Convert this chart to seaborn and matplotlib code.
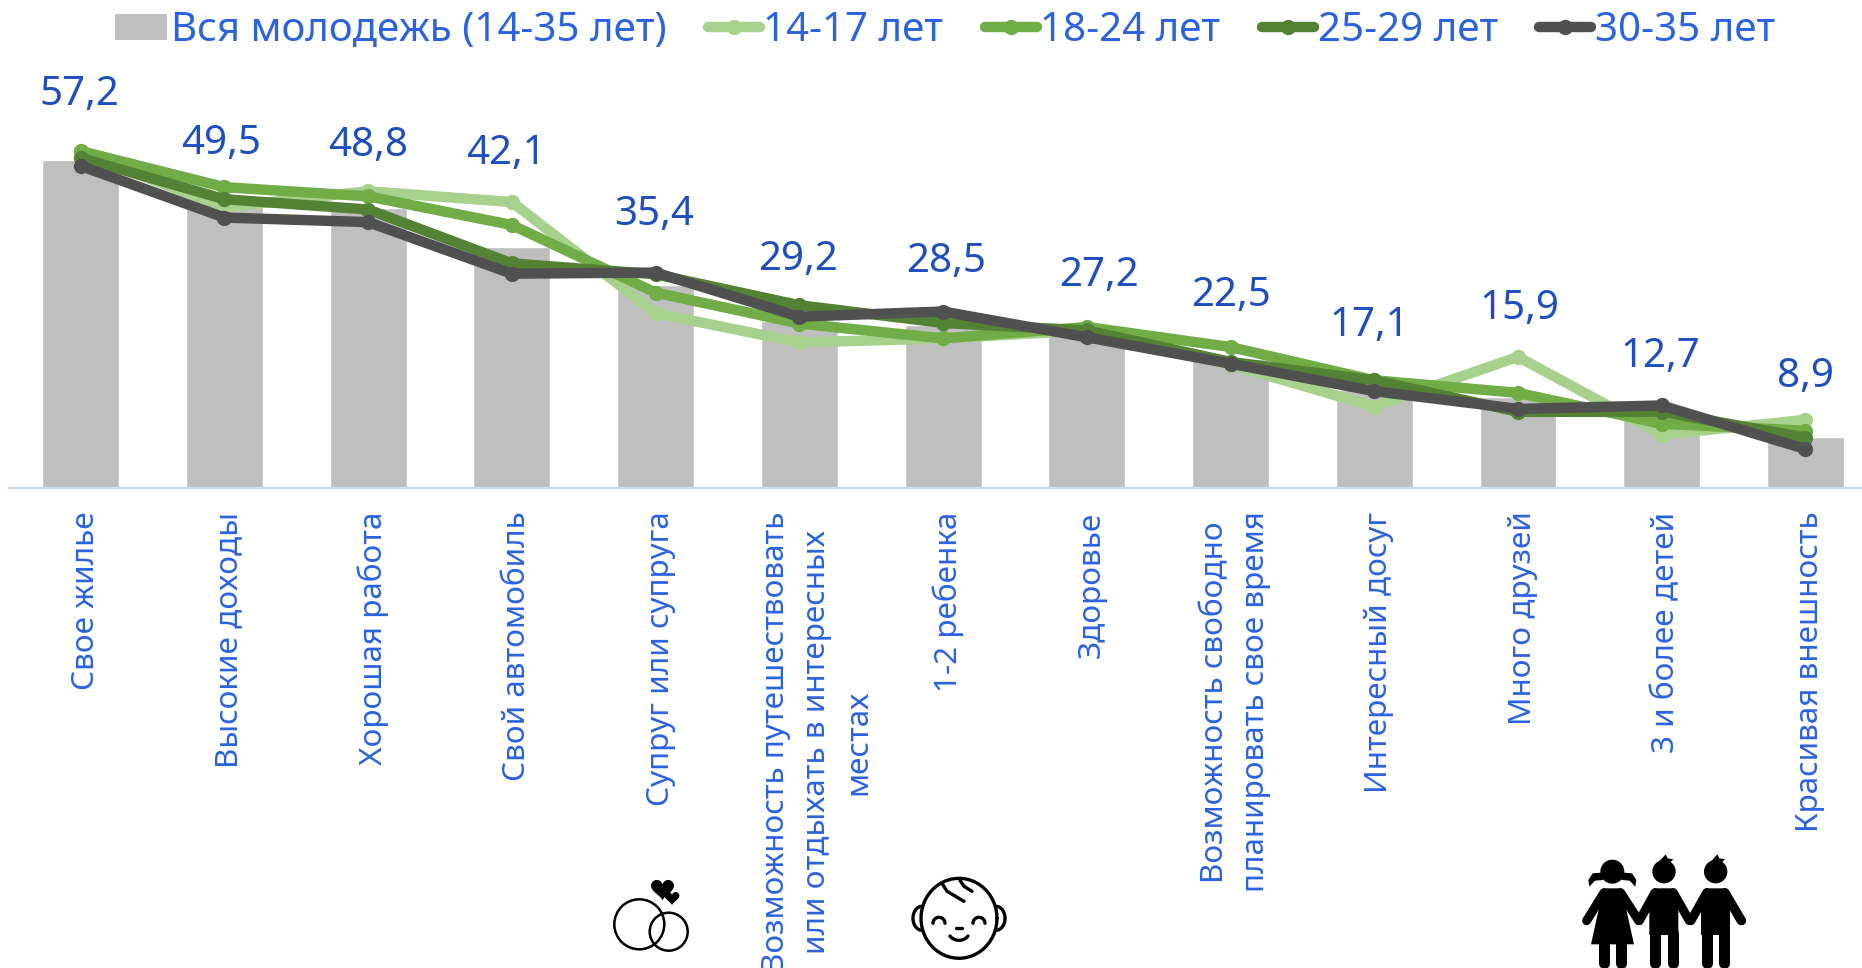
import numpy as np
import pandas as pd
import matplotlib
matplotlib.use("Agg")
import matplotlib.pyplot as plt
from matplotlib.lines import Line2D
from matplotlib.patches import Patch, Circle, Polygon
from matplotlib.transforms import ScaledTranslation
import seaborn as sns

categories = ["Свое жилье", "Высокие доходы", "Хорошая работа", "Свой автомобиль",
              "Супруг или супруга",
              "Возможность путешествовать\nили отдыхать в интересных\nместах",
              "1-2 ребенка", "Здоровье",
              "Возможность свободно\nпланировать свое время",
              "Интересный досуг", "Много друзей", "3 и более детей", "Красивая внешность"]
all_youth = [57.2, 49.5, 48.8, 42.1, 35.4, 29.2, 28.5, 27.2, 22.5, 17.1, 15.9, 12.7, 8.9]
age_14_17 = [58.5, 49.0, 51.8, 49.9, 30.5, 25.4, 26.1, 27.5, 21.5, 14.2, 22.9, 9.3, 11.9]
age_18_24 = [58.8, 52.5, 50.9, 45.9, 34.1, 28.7, 26.1, 28.1, 24.6, 18.8, 16.6, 11.2, 10.0]
age_25_29 = [57.6, 50.4, 48.6, 39.2, 37.3, 31.9, 28.8, 27.5, 22.0, 18.8, 13.3, 13.3, 8.8]
age_30_35 = [56.2, 47.2, 46.4, 37.4, 37.6, 29.9, 30.8, 26.3, 21.7, 16.9, 13.8, 14.4, 6.8]
series_names = ["14-17 лет", "18-24 лет", "25-29 лет", "30-35 лет"]
bar_name = "Вся молодежь (14-35 лет)"

BLUE = "#2A62E0"
LABEL_BLUE = "#1F4FBF"
BAR = "#BFBFBF"
palette = dict(zip(series_names, ["#A9D18E", "#70AD47", "#548235", "#505050"]))
label_dx_px = [-1, -3.5, 0, -6, -1, -1, 3.5, 12, 1, -5, 1, -1, 0]
label_dy_px = [65, 60, 62, 93, 70, 61, 63, 56, 63, 64, 88, 58, 60]

W, H = 1862, 968
DPI = 100
FONT = ["Noto Sans", "DejaVu Sans"]
sns.set_style("white")
plt.rcParams["font.family"] = FONT

fig = plt.figure(figsize=(W / DPI, H / DPI), dpi=DPI, facecolor="white")
base_y = 488.0
first_x = 80.7
step = 143.73
left = first_x - step / 2
ax = fig.add_axes([left / W, (H - base_y) / H, (W - left) / W, base_y / H])

pos = np.arange(len(categories))
bars = pd.DataFrame({"pos": pos, "value": all_youth})
sns.barplot(data=bars, x="pos", y="value", color=BAR, saturation=1, width=0.535, ax=ax, native_scale=True)

long_df = pd.DataFrame({
    "pos": np.tile(pos, 4),
    "value": age_14_17 + age_18_24 + age_25_29 + age_30_35,
    "series": np.repeat(series_names, len(pos)),
})
sns.lineplot(data=long_df, x="pos", y="value", hue="series", hue_order=series_names, palette=palette,
             linewidth=7.5, marker="o", markersize=11, markeredgewidth=0, errorbar=None, sort=False,
             legend=False, ax=ax, solid_joinstyle="round", solid_capstyle="round", clip_on=False)

ax.set_xlim(-0.5, (W - first_x) / step)
ax.set_ylim(0, base_y / 5.73)
ax.set_xlabel("")
ax.set_ylabel("")
ax.set_yticks([])
ax.set_xticks(pos)
ax.set_xticklabels(categories, rotation=90, fontsize=22.7, color=BLUE, va="top", ha="center",
                   multialignment="center", linespacing=1.5)
ax.tick_params(axis="x", length=0, pad=17)
for s in ["top", "right", "left"]:
    ax.spines[s].set_visible(False)
ax.spines["bottom"].set_color("#C9D9F2")
ax.spines["bottom"].set_linewidth(1.6)
ax.patch.set_alpha(0)
for k, lab in enumerate(ax.get_xticklabels()):
    shift = 18 if k == 5 else 5
    lab.set_transform(lab.get_transform() + ScaledTranslation(shift / DPI, 0, fig.dpi_scale_trans))

for i, v in enumerate(all_youth):
    ax.annotate(f"{v:.1f}".replace(".", ","), xy=(i, v), xycoords="data",
                xytext=(label_dx_px[i] * 72 / DPI, label_dy_px[i] * 72 / DPI), textcoords="offset points",
                ha="center", va="center", fontsize=29, color=LABEL_BLUE)

handles = [Patch(facecolor=BAR, edgecolor="none")] + [
    Line2D([0], [0], color=palette[n], lw=7.5, marker="o", markersize=11, markeredgewidth=0,
           solid_capstyle="round") for n in series_names]
leg = fig.legend(handles, [bar_name] + series_names, ncol=5, frameon=False, fontsize=29.0,
                 loc="upper left", bbox_to_anchor=(115 / W, 1 - 11 / H), borderaxespad=0, borderpad=0,
                 handlelength=1.29, handleheight=0.64, handletextpad=0.09, columnspacing=1.03, labelcolor=BLUE)

# ---- decorative icons, in figure pixels
ov = fig.add_axes([0, 0, 1, 1], zorder=5)
ov.set_xlim(0, W)
ov.set_ylim(H, 0)
ov.axis("off")
ov.patch.set_alpha(0)

# rings and hearts
ov.add_patch(Circle((639.3, 924.3), 25, fill=False, ec="black", lw=1.8))
ov.add_patch(Circle((668.7, 931.7), 19, fill=False, ec="black", lw=1.8))
def heart(cx, cy, s, rot=0):
    t = np.linspace(0, 2 * np.pi, 60)
    x = 16 * np.sin(t) ** 3
    y = -(13 * np.cos(t) - 5 * np.cos(2 * t) - 2 * np.cos(3 * t) - np.cos(4 * t))
    r = np.deg2rad(rot)
    xr, yr = x * np.cos(r) - y * np.sin(r), x * np.sin(r) + y * np.cos(r)
    ov.add_patch(Polygon(np.c_[cx + s * xr, cy + s * yr], fc="black", ec="none"))
heart(662.5, 888.5, 0.72, 0)
heart(672, 897.5, 0.46, 0)

# baby face
def arc(cx, cy, rx, ry, a0, a1, lw=2.4):
    t = np.deg2rad(np.linspace(a0, a1, 50))
    ov.plot(cx + rx * np.cos(t), cy + ry * np.sin(t), color="black", lw=lw, solid_capstyle="round")
bx, by = 959, 918.3
arc(bx, by, 38, 40, 0, 360)
arc(bx - 37, by + 0, 9, 12, 95, 265)
arc(bx + 37, by + 0, 9, 12, -85, 85)
arc(bx - 20, by + 5, 6, 6, 180, 360)
arc(bx + 20, by + 5, 6, 6, 180, 360)
arc(bx, by + 12, 11, 10, 35, 145)
ov.plot([bx - 3, bx + 3], [by + 10, by + 10], color="black", lw=2.4, solid_capstyle="round")
ov.plot([bx - 17, bx - 12, bx + 5], [by - 35, by - 27, by - 17], color="black", lw=2.4, solid_capstyle="round")
ov.plot([bx + 1, bx + 5, bx + 13], [by - 38, by - 32, by - 27], color="black", lw=2.4, solid_capstyle="round")

# three children
def zp(x, y):
    return 1500 + x / 3, 800 + y / 3
def limb(p, q, w):
    a, b = zp(*p), zp(*q)
    ov.plot([a[0], b[0]], [a[1], b[1]], color="black", lw=w * 0.72, solid_capstyle="round")
def poly(pts):
    ov.add_patch(Polygon([zp(*p) for p in pts], fc="black", ec="none"))
def girl():
    ov.add_patch(Circle(zp(337, 215), 12, fc="black", ec="none"))
    poly([(303, 218), (278, 220), (265, 240), (268, 260), (285, 242), (310, 240)])
    poly([(371, 218), (396, 220), (409, 240), (406, 260), (389, 242), (364, 240)])
    poly([(310, 265), (365, 265), (402, 433), (273, 433)])
    limb((312, 278), (260, 362), 9)
    limb((362, 278), (416, 362), 9)
    limb((312, 430), (312, 488), 11)
    limb((362, 430), (362, 488), 11)
def boy(dx):
    ov.add_patch(Circle(zp(492 + dx, 215), 11.7, fc="black", ec="none"))
    poly([(468 + dx, 195), (497 + dx, 163), (503 + dx, 175), (520 + dx, 178), (510 + dx, 188), (525 + dx, 200)])
    poly([(462 + dx, 265), (522 + dx, 265), (535 + dx, 290), (535 + dx, 405), (448 + dx, 405), (448 + dx, 290)])
    limb((465 + dx, 278), (418 + dx, 362), 9)
    limb((520 + dx, 278), (568 + dx, 362), 9)
    limb((465 + dx, 400), (465 + dx, 488), 11)
    limb((518 + dx, 400), (518 + dx, 488), 11)
girl()
boy(0)
boy(155)
limb((675, 278), (725, 362), 9)

fig.savefig("out.png", dpi=DPI)
